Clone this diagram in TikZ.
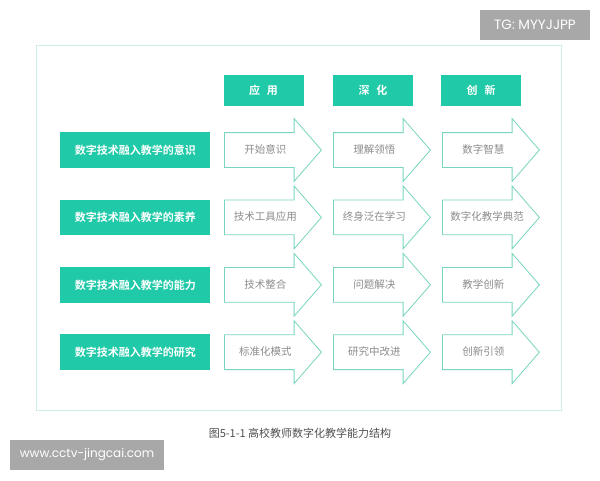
\documentclass[tikz,border=0pt]{standalone}
\usepackage{fontspec}
\setmainfont{Noto Sans CJK SC}[BoldFont={Noto Sans CJK SC Bold}]
\newfontfamily\markfont{Poppins}
\usepackage{tikz}
\usetikzlibrary{shapes.arrows}

\definecolor{teal1}{RGB}{32,201,167}
\definecolor{tealline}{RGB}{120,214,192}
\definecolor{frameline}{RGB}{205,238,231}
\definecolor{txtgray}{RGB}{140,140,140}
\definecolor{capgray}{RGB}{80,80,80}
\definecolor{markgray}{RGB}{168,168,168}

\begin{document}
\begin{tikzpicture}[x=1pt, y=-1pt,
    head/.style={fill=teal1, text=white, font=\bfseries\fontsize{11}{13}\selectfont,
      minimum width=80pt, minimum height=31pt, inner sep=0pt},
    level/.style={fill=teal1, text=white, font=\bfseries\fontsize{11}{13}\selectfont,
      minimum width=150pt, minimum height=35.5pt, inner sep=0pt},
    stage/.style={draw=tealline, line width=0.8pt, fill=white, text=txtgray,
      font=\fontsize{10.5}{12}\selectfont, single arrow, shape border rotate=0,
      single arrow head extend=14pt, single arrow tip angle=98,
      minimum height=97pt, minimum width=62pt, inner xsep=0pt, inner ysep=12pt,
      text height=8.5pt, text depth=1.5pt,
      text width=66pt, align=center, anchor=tail},
    wmark/.style={fill=markgray, text=white, inner sep=0pt, minimum height=30pt}]
  \useasboundingbox (0,0) rectangle (600,480);
  \fill[white] (0,0) rectangle (600,480);

  % frame
  \draw[frameline, line width=1pt] (36,45) rectangle (561.5,410.5);

  % column heads
  \node[head] (apply) at (263.5,90.5){应\hspace{7pt}用};
  \node[head] (deepen) at (373,90.5){深\hspace{7pt}化};
  \node[head] (innov) at (481,90.5){创\hspace{7pt}新};

  % row labels
  \node[level] (aware) at (135.3,150){数字技术融入教学的意识};
  \node[level] (liter) at (135.3,217.4){数字技术融入教学的素养};
  \node[level] (abil) at (135.3,284.8){数字技术融入教学的能力};
  \node[level] (resch) at (135.3,352.2){数字技术融入教学的研究};

  % stages
  \node[stage] (a1) at (224,150){开始意识};
  \node[stage] (a2) at (333,150){理解领悟};
  \node[stage] (a3) at (442,150){数字智慧};
  \node[stage] (l1) at (224,217.4){技术工具应用};
  \node[stage] (l2) at (333,217.4){终身泛在学习};
  \node[stage] (l3) at (442,217.4){数字化教学典范};
  \node[stage] (b1) at (224,284.8){技术整合};
  \node[stage] (b2) at (333,284.8){问题解决};
  \node[stage] (b3) at (442,284.8){教学创新};
  \node[stage] (r1) at (224,352.2){标准化模式};
  \node[stage] (r2) at (333,352.2){研究中改进};
  \node[stage] (r3) at (442,352.2){创新引领};

  % caption
  \node[text=capgray, font=\fontsize{11}{13}\selectfont] (cap) at (300,433){图5-1-1 高校教师数字化教学能力结构};

  % watermarks
  \node[wmark, minimum width=110pt, font=\markfont\fontsize{13.5}{15}\selectfont] (tg) at (535,25){TG: MYYJJPP};
  \node[wmark, minimum width=154pt, font=\markfont\fontsize{12}{14}\selectfont] (web) at (87,455){www.cctv-jingcai.com};
\end{tikzpicture}
\end{document}
